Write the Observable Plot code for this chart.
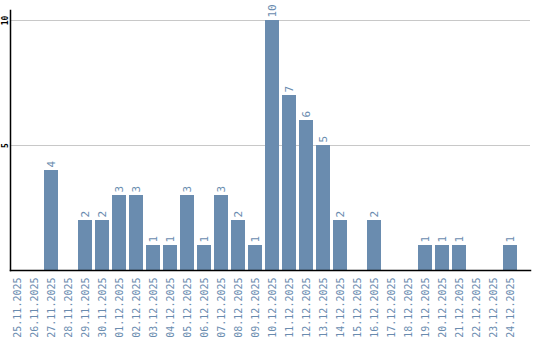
<!DOCTYPE html>
<html><head><meta charset="utf-8">
<script src="https://cdn.jsdelivr.net/npm/d3@7"></script>
<script src="https://cdn.jsdelivr.net/npm/@observablehq/plot@0.6"></script>
<style>body{margin:0;background:#fff}</style></head>
<body><div id="chart"></div>
<script>
const dates = ["25.11.2025","26.11.2025","27.11.2025","28.11.2025","29.11.2025","30.11.2025",
"01.12.2025","02.12.2025","03.12.2025","04.12.2025","05.12.2025","06.12.2025","07.12.2025",
"08.12.2025","09.12.2025","10.12.2025","11.12.2025","12.12.2025","13.12.2025","14.12.2025",
"15.12.2025","16.12.2025","17.12.2025","18.12.2025","19.12.2025","20.12.2025","21.12.2025",
"22.12.2025","23.12.2025","24.12.2025"];
const counts = [0,0,4,0,2,2,3,3,1,1,3,1,3,2,1,10,7,6,5,2,0,2,0,0,1,1,1,0,0,1];
const yTicks = [5,10];
const data = dates.map((d,i)=>({date:d,count:counts[i]})).filter(d=>d.count>0);
const barColor = "#6a8caf";
const chart = Plot.plot({
  width:540, height:340, marginLeft:10, marginRight:10, marginTop:10, marginBottom:70,
  style:{fontFamily:"'DejaVu Sans Mono', monospace", background:"#fff"},
  x:{domain:dates, range:[8,518], paddingInner:0.18, paddingOuter:0, axis:null},
  y:{domain:[0,10], range:[270,20], axis:null},
  marks:[
    Plot.ruleY(yTicks,{stroke:"#c8c8c8"}),
    Plot.barY(data,{x:"date", y:"count", fill:barColor}),
    Plot.text(data,{x:"date", y:"count", text:d=>String(d.count), rotate:-90, textAnchor:"start", lineAnchor:"middle", dy:-3, fill:barColor, fontSize:11}),
    Plot.axisX({tickSize:0, tickPadding:7, tickRotate:-90, fill:barColor, fontSize:10, label:null}),
    Plot.axisY(yTicks,{tickSize:0, tickPadding:3, tickRotate:-90, textAnchor:"middle", lineAnchor:"bottom", fill:"#000", fontSize:8, fontWeight:"bold", label:null}),
    Plot.frame({anchor:"left", stroke:"#000", strokeWidth:1.5}),
    Plot.frame({anchor:"bottom", stroke:"#000", strokeWidth:1.5})
  ]
});
document.getElementById("chart").append(chart);
</script></body></html>
